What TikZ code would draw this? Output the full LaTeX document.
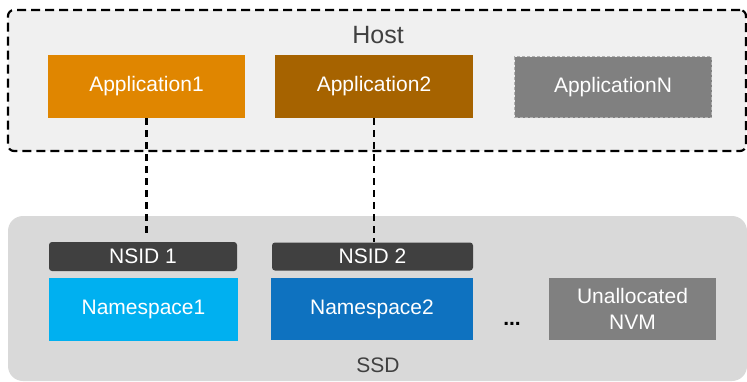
\documentclass[tikz,border=0pt]{standalone}
\usepackage{fontspec}
\setmainfont{Liberation Sans}
\definecolor{hostfill}{HTML}{F0F0F0}
\definecolor{ssdfill}{HTML}{D9D9D9}
\definecolor{appone}{HTML}{E08600}
\definecolor{apptwo}{HTML}{A66300}
\definecolor{appgray}{HTML}{808080}
\definecolor{appborder}{HTML}{B0B0B0}
\definecolor{nsone}{HTML}{00B0F0}
\definecolor{nstwo}{HTML}{0E72C0}
\definecolor{nsidfill}{HTML}{404040}
\definecolor{labelgray}{HTML}{404040}
\begin{document}
\begin{tikzpicture}[x=1pt,y=-1pt,
  every node/.style={font=\fontsize{21}{24}\selectfont, inner sep=0pt},
  blk/.style={rectangle, text=white, minimum width=#1},
  conn/.style={draw=black, line width=2.2pt, dash pattern=on 7pt off 5pt}
]
\useasboundingbox (0,0) rectangle (747,381);
% Host container
\node[draw=black, fill=hostfill, line width=2.2pt, dash pattern=on 9pt off 5pt,
  rounded corners=6pt, minimum width=738pt, minimum height=141pt] (host) at (377,80.5) {};
\node[anchor=base, text=labelgray, font=\fontsize{25}{28}\selectfont] (hostlbl) at (378,43) {Host};
% SSD container
\node[fill=ssdfill, rounded corners=15pt, minimum width=739pt, minimum height=165pt] (ssd) at (377.5,298.5) {};
\node[anchor=base, text=labelgray] (ssdlbl) at (378,372) {SSD};
% Applications
\node[blk=197pt, fill=appone, minimum height=63pt] (app1) at (146.5,86.5) {Application1};
\node[blk=198pt, fill=apptwo, minimum height=63pt] (app2) at (374,86.5) {Application2};
\node[blk=197pt, fill=appgray, draw=appborder, line width=1pt, dash pattern=on 3pt off 2pt, minimum height=61pt] (appn) at (613,87) {ApplicationN};
% NSIDs
\node[blk=188pt, fill=nsidfill, rounded corners=3pt, minimum height=29pt] (nsid1) at (143,256.5) {NSID 1};
\node[blk=201pt, fill=nsidfill, rounded corners=3pt, minimum height=28pt] (nsid2) at (372.5,256.5) {NSID 2};
% Namespaces
\node[blk=189pt, fill=nsone, minimum height=63pt] (ns1) at (143.5,309.5) {Namespace1};
\node[blk=202pt, fill=nstwo, minimum height=62pt] (ns2) at (372,309) {Namespace2};
\node[blk=167pt, fill=appgray, minimum height=62pt, align=center, font=\fontsize{21}{26}\selectfont] (unal) at (632.5,309) {Unallocated\\NVM};
\node[anchor=base, text=black, font=\fontsize{21}{24}\selectfont\bfseries] (dots) at (512,325) {...};
% Connectors
\coordinate (c1) at (146.5,233);
\draw[conn] (app1.south) -- (c1);
\draw[conn] (app2.south) -- (app2.south |- nsid2.north);
\end{tikzpicture}
\end{document}
